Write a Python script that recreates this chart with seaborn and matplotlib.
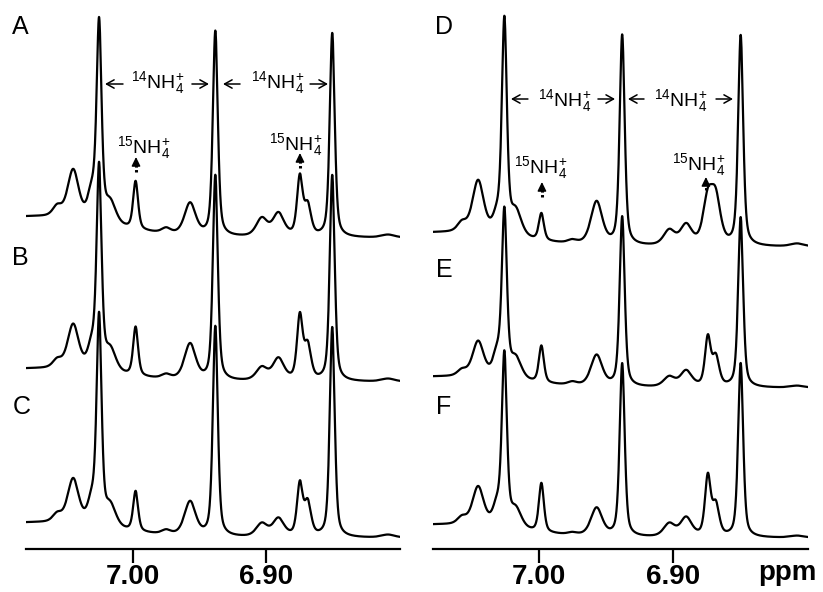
import numpy as np
import pandas as pd
import matplotlib
matplotlib.use("Agg")
import matplotlib.pyplot as plt
import seaborn as sns

# ---------------- data ----------------
trace_names = ["A", "B", "C", "D", "E", "F"]
panel_of_trace = ["left", "left", "left", "right", "right", "right"]

# peak centres (ppm)
peak_ppm = [7.057, 7.045, 7.031, 7.0255, 7.017, 6.998, 6.975, 6.957,
            6.938, 6.903, 6.8905, 6.8744, 6.8685, 6.850, 6.808]

# half widths at half maximum (ppm) per trace
hw_common = [0.004, 0.005, 0.0035, 0.0022, 0.005, 0.0022, 0.004, 0.005,
             0.0022, 0.005, 0.005, 0.0025, 0.003, 0.0022, 0.006]
hw_D = [0.004, 0.005, 0.0035, 0.0022, 0.005, 0.0022, 0.004, 0.005,
        0.0022, 0.005, 0.005, 0.0042, 0.0042, 0.0022, 0.006]

# peak heights per trace (plot units)
heights_A = [10, 49, 26, 196, 21, 48, 5, 32, 205, 18, 23, 58, 30, 204, 3]
heights_B = [8, 45, 22, 201, 22, 49, 4, 36, 205, 13, 22, 63, 34, 206, 3]
heights_C = [8, 45, 22, 206, 21, 40, 4, 34, 210, 13, 18, 51, 33, 210, 3]
heights_D = [9, 53, 16, 212, 25, 27, 3, 43, 210, 15, 20, 44, 44, 210, 3]
heights_E = [6, 36, 22, 164, 21, 37, 3, 31, 170, 10, 16, 48, 29, 170, 2]
heights_F = [7, 39, 19, 170, 19, 49, 2, 28, 173, 13, 19, 59, 31, 174, 2]

# vertical offset of each trace (plot units) and broad background amplitude
trace_offset = [311, 167, 11, 302, 161, 11]
background_amp = [21, 13, 15, 14, 11, 13]
background_center = 7.08
background_sigma = 0.055

tick_values = [7.00, 6.90]
tick_labels = ["7.00", "6.90"]

# ---------------- build spectra ----------------
heights_all = [heights_A, heights_B, heights_C, heights_D, heights_E, heights_F]
hw_all = [hw_common, hw_common, hw_common, hw_D, hw_common, hw_common]
ppm_grid = np.linspace(6.795, 7.085, 4000)


def pseudo_voigt(x, c, hw, eta=0.5):
    lor = 1.0 / (1.0 + ((x - c) / hw) ** 2)
    gau = np.exp(-np.log(2) * ((x - c) / hw) ** 2)
    return eta * lor + (1 - eta) * gau


rows = []
for i, name in enumerate(trace_names):
    y = np.full_like(ppm_grid, float(trace_offset[i]))
    y += background_amp[i] * np.exp(-0.5 * ((ppm_grid - background_center) / background_sigma) ** 2)
    for c, w, h in zip(peak_ppm, hw_all[i], heights_all[i]):
        y += h * pseudo_voigt(ppm_grid, c, w)
    rows.append(pd.DataFrame({"ppm": ppm_grid, "intensity": y,
                              "trace": name, "panel": panel_of_trace[i]}))
df = pd.concat(rows, ignore_index=True)

# ---------------- figure ----------------
sns.set_theme(style="white")
plt.rcParams["font.family"] = ["Liberation Sans", "DejaVu Sans"]
plt.rcParams["mathtext.fontset"] = "custom"
plt.rcParams["mathtext.rm"] = "Liberation Sans"
plt.rcParams["mathtext.it"] = "Liberation Sans"
plt.rcParams["mathtext.bf"] = "Liberation Sans:bold"
plt.rcParams["text.color"] = "black"
plt.rcParams["xtick.color"] = "black"
plt.rcParams["xtick.labelcolor"] = "black"

W, H = 823, 592
fig = plt.figure(figsize=(W / 100, H / 100), dpi=100)
axL = fig.add_axes([26 / W, 43 / H, 374 / W, 549 / H])
axR = fig.add_axes([433 / W, 43 / H, 375 / W, 549 / H])

for ax, panel, xl in [(axL, "left", (7.0805, 6.799)), (axR, "right", (7.0785, 6.8))]:
    sub = df[df["panel"] == panel]
    sns.lineplot(data=sub, x="ppm", y="intensity", units="trace", estimator=None,
                 color="black", lw=1.6, sort=False, ax=ax, legend=False)
    ax.set_xlim(*xl)
    ax.set_ylim(0, 549)
    ax.set_xlabel("")
    ax.set_ylabel("")
    ax.set_yticks([])
    for s in ["top", "left", "right"]:
        ax.spines[s].set_visible(False)
    ax.spines["bottom"].set_linewidth(1.6)
    ax.spines["bottom"].set_color("black")
    ax.set_xticks(tick_values)
    ax.set_xticklabels(tick_labels, fontsize=20, fontweight="bold", color="black")
    ax.tick_params(axis="x", direction="out", length=10, width=1.6, pad=1,
                   colors="black", bottom=True)
    ax.patch.set_alpha(0)

fig.text(787 / W, 1 - 580 / H, "ppm", fontsize=20, fontweight="bold",
         ha="center", va="baseline", color="black")

# panel letters
for lbl, (px, py) in zip(trace_names, [(20, 27), (20, 258), (22, 407),
                                       (444, 27), (444, 270), (444, 407)]):
    fig.text(px / W, 1 - py / H, lbl, fontsize=18, ha="center", va="center",
             color="black")

n14 = r"$^{14}$NH$_4^{+}$"
n15 = r"$^{15}$NH$_4^{+}$"
arrow_kw = dict(arrowstyle="->,head_length=0.45,head_width=0.25", lw=1.1, color="black",
                shrinkA=0, shrinkB=0)


def y_of(px):
    return 549 - px


def label14(ax, y_arrow, y_base, segs, centers):
    for tail, tip in segs:
        ax.annotate("", xy=(tip, y_of(y_arrow)), xytext=(tail, y_of(y_arrow)),
                    arrowprops=arrow_kw)
    for cx in centers:
        ax.text(cx, y_of(y_base), n14, fontsize=14, ha="center", va="baseline",
                color="black")


def label15(ax, cx, base, xa, y_top, y_bot):
    ax.text(cx, y_of(base), n15, fontsize=14, ha="center", va="baseline",
            color="black")
    ax.plot([xa, xa], [y_of(y_bot), y_of(y_top) - 4], color="black", lw=2.2,
            ls=(0, (0.8, 0.8)))
    ax.annotate("", xy=(xa, y_of(y_top)), xytext=(xa, y_of(y_top) - 5),
                arrowprops=dict(arrowstyle="-|>,head_length=0.45,head_width=0.22",
                                lw=1.0, color="black", shrinkA=0, shrinkB=0))


label14(axL, 84, 88,
        [(7.0075, 7.0210), (6.9556, 6.9428), (6.9194, 6.9322), (6.8667, 6.8532)],
        [6.9810, 6.8912])
label15(axL, 6.9921, 153, 6.9977, 157, 172)
label15(axL, 6.8773, 150, 6.8743, 153, 168)

label14(axR, 99, 106,
        [(7.0080, 7.0206), (6.9560, 6.9433), (6.9218, 6.9337), (6.8683, 6.8557)],
        [6.9808, 6.8943])
label15(axR, 6.9987, 173, 6.9976, 182, 197)
label15(axR, 6.8813, 170, 6.8758, 177, 190)

fig.savefig("out.png", dpi=100, facecolor="white")
